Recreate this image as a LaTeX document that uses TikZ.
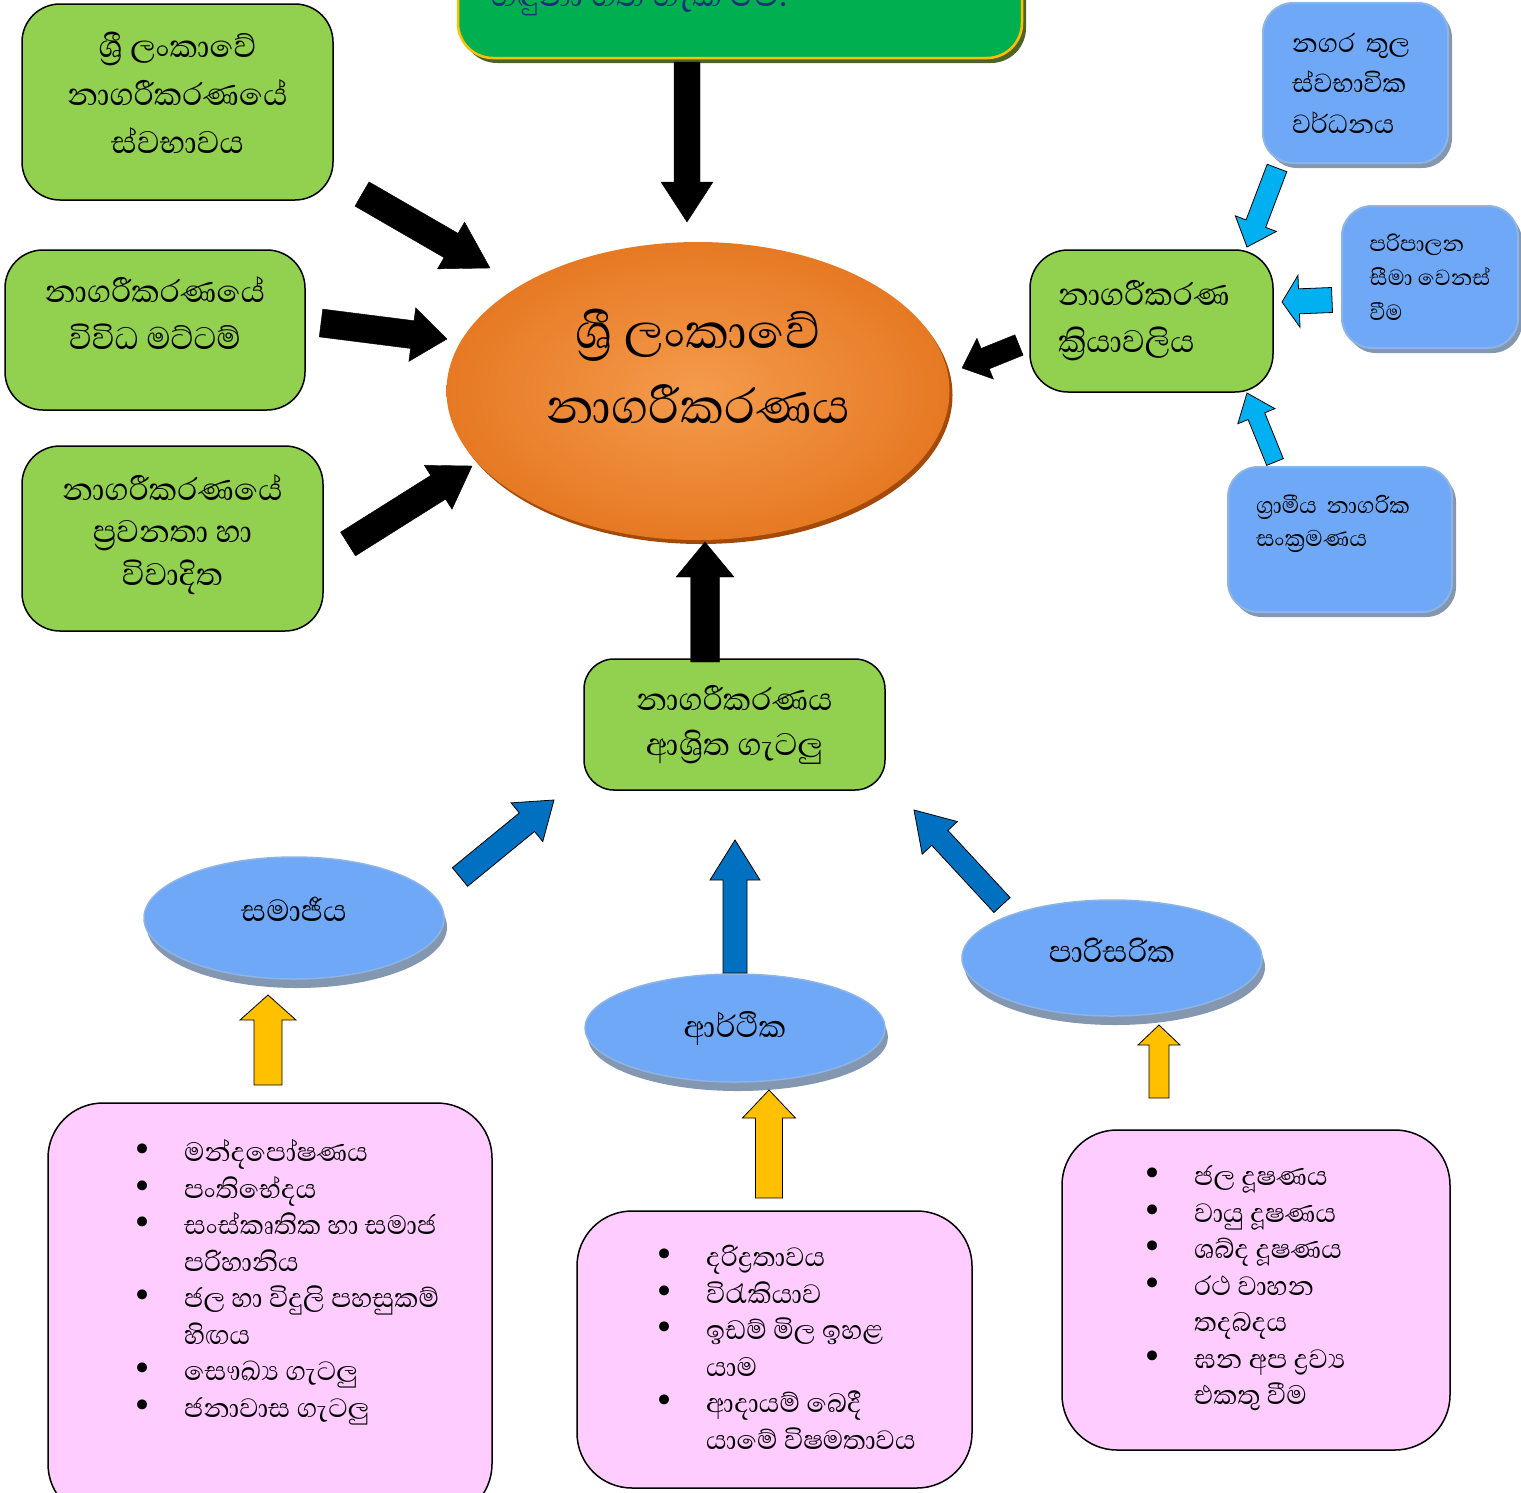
\documentclass[tikz,border=0pt]{standalone}
\usepackage{fontspec}
\setmainfont[Script=Sinhala]{Abhaya Libre}
\newfontfamily\bulletfont{DejaVu Sans}
\usetikzlibrary{shapes.geometric,shadows,calc}

\definecolor{leafgreen}{HTML}{92D050}
\definecolor{bannergreen}{HTML}{00B050}
\definecolor{bannerline}{HTML}{FFC000}
\definecolor{bannershadow}{HTML}{4F6228}
\definecolor{navytext}{HTML}{1F2F7A}
\definecolor{skyfill}{HTML}{6FA8F7}
\definecolor{blueedge}{HTML}{8EB4E3}
\definecolor{greyshadow}{HTML}{8497B0}
\definecolor{pinkfill}{HTML}{FFCCFF}
\definecolor{cyanfill}{HTML}{00B0F0}
\definecolor{navyfill}{HTML}{0070C0}
\definecolor{goldfill}{HTML}{FFC000}
\definecolor{glowin}{HTML}{F49B4C}
\definecolor{glowout}{HTML}{E06A12}
\definecolor{glowshadow}{HTML}{A44A08}

\pgfdeclareradialshading{orangeglow}{\pgfpoint{0bp}{0bp}}{color(0bp)=(glowin); color(36bp)=(glowout); color(50bp)=(glowout)}

% fat arrow: style, from, to, half shaft, half head, head length
\newcommand{\blockarrow}[6]{%
  \coordinate (neck) at ($(#3)!#6!(#2)$);
  \draw[#1] ($(#2)!#4!90:(#3)$) -- ($(neck)!#4!-90:(#2)$) -- ($(neck)!#5!-90:(#2)$) -- (#3)
    -- ($(neck)!#5!90:(#2)$) -- ($(neck)!#4!90:(#2)$) -- ($(#2)!#4!-90:(#3)$) -- cycle;
}
\newcommand{\itm}{\makebox[52pt][l]{\bulletfont •}}
\newcommand{\cnt}{\hspace*{52pt}}
\setlength{\lineskiplimit}{-100pt}
\setlength{\lineskip}{0pt}

\begin{document}
\begin{tikzpicture}[x=1pt,y=-1pt,
    greenbox/.style = {draw=black, line width=1.5pt, fill=leafgreen, rounded corners=38pt, align=center,
      font=\fontsize{40}{48}\selectfont},
    bluebox/.style = {draw=blueedge, line width=2pt, fill=skyfill, rounded corners=30pt, align=left,
      drop shadow={shadow xshift=4pt, shadow yshift=-5pt, fill=greyshadow, opacity=1}},
    blueoval/.style = {ellipse, draw=blueedge, line width=1.5pt, fill=skyfill, inner sep=0pt,
      font=\fontsize{39}{45}\selectfont,
      drop shadow={shadow xshift=3pt, shadow yshift=-9pt, fill=greyshadow, opacity=1}},
    pinkbox/.style = {draw=black, line width=1.5pt, fill=pinkfill, rounded corners=55pt},
    listtext/.style = {anchor=west, align=left, inner sep=0pt, font=\fontsize{34}{36.5}\selectfont},
    blackarr/.style = {fill=black},
    cyanarr/.style = {fill=cyanfill, draw=black, line width=0.8pt},
    navyarr/.style = {fill=navyfill, draw=black, line width=0.8pt},
    goldarr/.style = {fill=goldfill, draw=black, line width=0.8pt}
  ]
  \useasboundingbox (0,0) rectangle (1521,1492);

  % banner, cut by the top edge
  \node[draw=bannerline, line width=2.5pt, fill=bannergreen, rounded corners=35pt,
    minimum width=564pt, minimum height=118pt,
    drop shadow={shadow xshift=4pt, shadow yshift=-5pt, fill=bannershadow, opacity=1}]
    (banner) at (740,-1) {};
  \node[anchor=base west, text=navytext, font=\fontsize{42}{48}\selectfont]
    (bannertext) at (488,6) {හඳුනා ගත හැකි වේ.};

  % centre
  \node[ellipse, shading=orangeglow, minimum width=503pt, minimum height=298pt, align=center,
    font=\fontsize{62}{75}\selectfont, text depth=49pt,
    drop shadow={shadow xshift=3pt, shadow yshift=-4pt, fill=glowshadow, opacity=1}]
    (centre) at (698,391) {ශ්‍රී ලංකාවේ\\නාගරීකරණය};

  % green boxes
  \node[greenbox, minimum width=311pt, minimum height=196pt, text depth=18pt] (nature) at (177.5,102)
    {ශ්‍රී ලංකාවේ\\නාගරීකරණයේ\\ස්වභාවය};
  \node[greenbox, minimum width=300pt, minimum height=160pt, text depth=34pt,
    font=\fontsize{40}{47}\selectfont] (levels) at (155,330)
    {නාගරීකරණයේ\\විවිධ මට්ටම්};
  \node[greenbox, minimum width=301pt, minimum height=185pt, text depth=17pt,
    font=\fontsize{40}{42.5}\selectfont] (trends) at (172.5,538.5)
    {නාගරීකරණයේ\\ප්‍රවනතා හා\\විවාදිත};
  \node[greenbox, align=left, text width=187pt, minimum width=243pt, minimum height=142pt,
    font=\fontsize{40}{47}\selectfont] (process) at (1151.5,321) {නාගරීකරණ\\ක්‍රියාවලිය};
  \node[greenbox, minimum width=301pt, minimum height=131pt, rounded corners=30pt,
    font=\fontsize{40}{45}\selectfont] (problems) at (734.5,724.5) {නාගරීකරණය\\ආශ්‍රිත ගැටලු};

  % blue boxes
  \node[bluebox, text width=127pt, minimum width=185pt, minimum height=160pt,
    font=\fontsize{33.5}{40.5}\selectfont] (growth) at (1355.5,83) {නගර තුල\\ස්වභාවික\\වර්ධනය};
  \node[bluebox, minimum width=176pt, minimum height=142pt, font=\fontsize{28}{34.5}\selectfont]
    (admin) at (1430,277) {පරිපාලන\\සීමා වෙනස්\\වීම};
  \node[bluebox, text width=168pt, minimum width=224pt, minimum height=145pt, text depth=70pt,
    font=\fontsize{29}{33}\selectfont] (migrate) at (1340,539.5) {ග්‍රාමීය නාගරික\\සංක්‍රමණය};

  % blue ovals
  \node[blueoval, minimum width=300pt, minimum height=122pt, text depth=18pt] (social) at (294,918) {සමාජීය};
  \node[blueoval, minimum width=300pt, minimum height=108pt] (economic) at (735,1028) {ආර්ථික};
  \node[blueoval, minimum width=300pt, minimum height=116pt, text depth=16pt] (environ) at (1112,958) {පාරිසරික};

  % pink lists
  \node[pinkbox, minimum width=444pt, minimum height=416pt] (sociallist) at (270,1311) {};
  \node[listtext] (socialitems) at (132,1282)
    {\itm මන්දපෝෂණය\\ \itm පංතිභේදය\\ \itm සංස්කෘතික හා සමාජ\\ \cnt පරිහානිය\\
     \itm ජල හා විදුලි පහසුකම්\\ \cnt හිඟය\\ \itm සෞඛ්‍ය ගැටලු\\ \itm ජනාවාස ගැටලු};
  \node[pinkbox, minimum width=395pt, minimum height=277pt] (econlist) at (774.5,1349.5) {};
  \node[listtext] (econitems) at (654,1347.5)
    {\itm දරිද්‍රතාවය\\ \itm විරැකියාව\\ \itm ඉඩම් මිල ඉහළ\\ \cnt යාම\\
     \itm ආදායම් බෙදී\\ \cnt යාමේ විෂමතාවය};
  \node[pinkbox, minimum width=388pt, minimum height=320pt] (envlist) at (1256,1290) {};
  \node[listtext] (envitems) at (1142,1288.5)
    {\itm ජල දූෂණය\\ \itm වායු දූෂණය\\ \itm ශබ්ද දූෂණය\\ \itm රථ වාහන\\ \cnt තදබදය\\
     \itm ඝන අප ද්‍රව්‍ය\\ \cnt එකතු වීම};

  % arrow ends
  \coordinate (a1s) at (687,62);     \coordinate (a1e) at (687,222);
  \coordinate (a2s) at (362,194);    \coordinate (a2e) at (490,268);
  \coordinate (a3s) at (321,323);    \coordinate (a3e) at (447,339);
  \coordinate (a4s) at (348,544);    \coordinate (a4e) at (472,466);
  \coordinate (a5s) at (705,662);    \coordinate (a5e) at (705,542);
  \coordinate (a6s) at (1019,345);   \coordinate (a6e) at (962,368);
  \coordinate (a7s) at (1277,168);   \coordinate (a7e) at (1247,247);
  \coordinate (a8s) at (1332,300);   \coordinate (a8e) at (1282,302);
  \coordinate (a9s) at (1275,462);   \coordinate (a9e) at (1247,393);
  \coordinate (a10s) at (460,877);   \coordinate (a10e) at (554,800);
  \coordinate (a11s) at (735,973);   \coordinate (a11e) at (735,840);
  \coordinate (a12s) at (1002,905);  \coordinate (a12e) at (914,810);
  \coordinate (a13s) at (268,1085);  \coordinate (a13e) at (268,995);
  \coordinate (a14s) at (769,1198);  \coordinate (a14e) at (769,1090);
  \coordinate (a15s) at (1159,1098); \coordinate (a15e) at (1159,1025);

  \foreach \st/\n/\ws/\wh/\hl in {blackarr/1/13pt/26pt/40pt, blackarr/2/14pt/27pt/45pt,
      blackarr/3/14pt/27pt/35pt, blackarr/4/14pt/26pt/40pt, blackarr/5/14.5pt/29pt/35pt,
      blackarr/6/11pt/22pt/25pt, cyanarr/7/10.5pt/22pt/25pt, cyanarr/8/12.5pt/26pt/17pt,
      cyanarr/9/9pt/20pt/25pt, navyarr/10/12pt/25pt/35pt, navyarr/11/12pt/25pt/40pt,
      navyarr/12/11pt/24pt/38pt, goldarr/13/14pt/28pt/25pt, goldarr/14/13.5pt/26.5pt/28pt,
      goldarr/15/10pt/21pt/20pt}{ % one fat arrow per entry
    \blockarrow{\st}{a\n s}{a\n e}{\ws}{\wh}{\hl}
  }
\end{tikzpicture}
\end{document}
